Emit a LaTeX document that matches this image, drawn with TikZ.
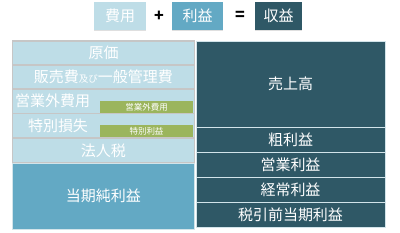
\documentclass[tikz,border=0pt]{standalone}
\usepackage{fontspec}
\setmainfont{Noto Sans CJK JP}
\usetikzlibrary{shadows}

\definecolor{lightblue}{HTML}{BEDDE7}
\definecolor{midblue}{HTML}{63A9C4}
\definecolor{darkteal}{HTML}{2F5866}
\definecolor{olivegreen}{HTML}{9BB55D}
\definecolor{rowgray}{HTML}{C6C6C6}
\definecolor{rowline}{HTML}{D2E4EA}

\begin{document}
\begin{tikzpicture}[
  x=1pt,y=-1pt,
  label/.style={text=white,font=\fontsize{15}{15}\selectfont,inner sep=0pt},
  costbox/.style={label,draw=rowgray,line width=1.2pt,fill=lightblue,minimum width=182pt},
  profitbox/.style={label,draw=rowline,line width=0.8pt,fill=midblue,minimum width=182pt},
  revbox/.style={label,draw=rowline,line width=0.8pt,fill=darkteal,minimum width=189pt},
  notebox/.style={text=white,font=\fontsize{8.5}{8.5}\selectfont,inner sep=0pt,fill=olivegreen,minimum width=93pt,minimum height=12pt},
  keybox/.style={label,minimum height=28pt,drop shadow={shadow xshift=0pt,shadow yshift=-1pt,opacity=0.25}},
  sign/.style={font=\fontsize{16}{16}\selectfont\bfseries,inner sep=0pt}
]
  \useasboundingbox (0,0) rectangle (400,233);

  % equation on top
  \node[keybox,fill=lightblue,minimum width=52pt] (cost) at (120,16) {費用};
  \node[sign] (plus) at (159,16) {+};
  \node[keybox,fill=midblue,minimum width=51pt] (profit) at (197.5,16) {利益};
  \node[sign] (equals) at (240,16) {=};
  \node[keybox,fill=darkteal,minimum width=47pt] (revenue) at (278.5,16) {収益};

  % cost side
  \node[costbox,minimum height=24pt] (cogs) at (103.5,53) {原価};
  \node[costbox,minimum height=24pt] (sga) at (103.5,77)
    {販売費{\fontsize{9.5}{9.5}\selectfont 及び}一般管理費};
  \node[costbox,minimum height=24.5pt] (nonopcost) at (103.5,101.25) {};
  \node[label,anchor=west] (nonopcosttext) at (15,101.25) {営業外費用};
  \node[costbox,minimum height=24.5pt] (extraloss) at (103.5,125.75) {};
  \node[label] (extralosstext) at (58,125.75) {特別損失};
  \node[costbox,minimum height=25pt] (tax) at (103.5,150.5) {法人税};
  \node[profitbox,minimum height=66pt] (netincome) at (103.5,196) {当期純利益};

  % small notes
  \node[notebox] (nonopgain) at (146.5,107) {営業外費用};
  \node[notebox] (extragain) at (146.5,131) {特別利益};

  % revenue side
  \node[revbox,minimum height=86pt] (sales) at (290.5,84) {売上高};
  \node[revbox,minimum height=25pt] (gross) at (290.5,140) {粗利益};
  \node[revbox,minimum height=25pt] (operating) at (290.5,165) {営業利益};
  \node[revbox,minimum height=25pt] (ordinary) at (290.5,190) {経常利益};
  \node[revbox,minimum height=25pt] (pretax) at (290.5,215) {税引前当期利益};
\end{tikzpicture}
\end{document}
